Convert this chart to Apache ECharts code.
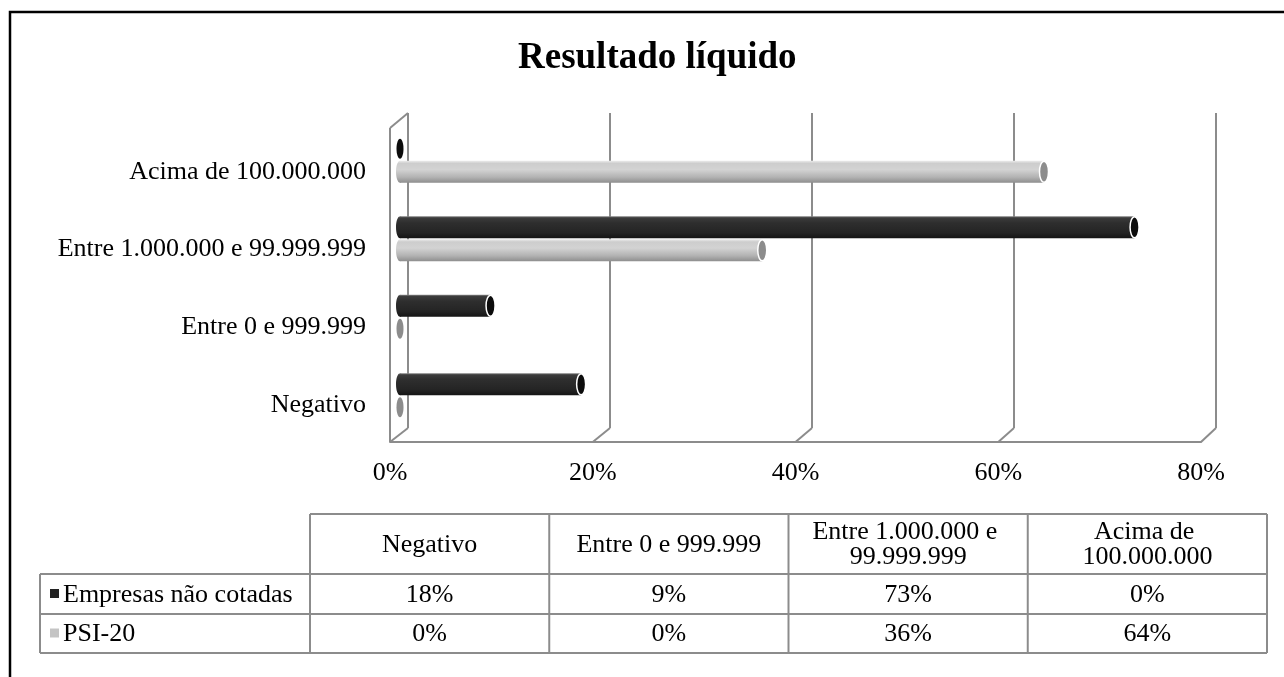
<!DOCTYPE html>
<html>
<head>
<meta charset="utf-8">
<title>Resultado líquido</title>
<script src="https://cdn.jsdelivr.net/npm/echarts@6/dist/echarts.min.js"></script>
<style>
  html, body { margin: 0; padding: 0; background: #fff; }
  #main { width: 1284px; height: 677px; }
</style>
</head>
<body>
<div id="main"></div>
<script>
// dados
const categories = ['Negativo', 'Entre 0 e 999.999', 'Entre 1.000.000 e 99.999.999', 'Acima de 100.000.000'];
const seriesNames = ['Empresas não cotadas', 'PSI-20'];
const empresas = [18, 9, 73, 0];
const psi20 = [0, 0, 36, 64];
const xTicks = [0, 20, 40, 60, 80];

const FONT = 'Liberation Serif';
const FS = 26;
const W = 1284, H = 677;
// caixa "3D": parede do fundo, plano das barras e frente
const back = { l: 408, r: 1216, t: 113, b: 428 };
const mid = { l: 400, r: 1205, t: 121, b: 435 };
const front = { l: 390, r: 1201, t: 128, b: 442 };
const labels = { l: 390, r: 1201, t: 133, b: 444 };
const gridLine = '#8c8c8c';

const styles = [
  { // Empresas não cotadas
    stops: [[0, '#8a8a8a'], [0.07, '#3c3c3c'], [0.3, '#2e2e2e'], [0.75, '#242424'], [1, '#141414']],
    cap: '#0c0c0c', off: -11.5, key: '#222'
  },
  { // PSI-20
    stops: [[0, '#ececec'], [0.12, '#cdcdcd'], [0.4, '#d3d3d3'], [0.75, '#b2b2b2'], [1, '#8e8e8e']],
    cap: '#8c8c8c', off: 11.5, key: '#c4c4c4'
  }
];

function cylinder(st) {
  return function (params, api) {
    const v = api.value(0), c = api.value(1);
    const p0 = api.coord([0, c]);
    const p1 = api.coord([v, c]);
    const cy = p0[1] + st.off, h = 22;
    const grad = new echarts.graphic.LinearGradient(0, 0, 0, 1,
      st.stops.map(s => ({ offset: s[0], color: s[1] })));
    const kids = [];
    if (v > 0) {
      kids.push({ type: 'ellipse', shape: { cx: p0[0], cy: cy, rx: 4, ry: h / 2 }, style: { fill: grad } });
      kids.push({ type: 'rect', shape: { x: p0[0], y: cy - h / 2, width: p1[0] - p0[0], height: h }, style: { fill: grad } });
      kids.push({ type: 'ellipse', shape: { cx: p1[0], cy: cy, rx: 4.5, ry: h / 2 - 0.5 }, style: { fill: st.cap, stroke: '#fff', lineWidth: 1.5 } });
    } else {
      kids.push({ type: 'ellipse', shape: { cx: p0[0], cy: cy, rx: 3.5, ry: 10 }, style: { fill: st.cap } });
    }
    return { type: 'group', children: kids };
  };
}

function gridOf(b) {
  return { left: b.l, right: W - b.r, top: b.t, bottom: H - b.b, containLabel: false };
}

const chart = echarts.init(document.getElementById('main'));

const option = {
  animation: false,
  backgroundColor: '#fff',
  title: {
    text: 'Resultado líquido',
    left: 513,
    top: 35,
    textStyle: { fontFamily: FONT, fontSize: 37, fontWeight: 'bold', color: '#000' }
  },
  grid: [gridOf(back), gridOf(mid), gridOf(front), gridOf(labels)],
  xAxis: [
    {
      gridIndex: 0, type: 'value', min: 0, max: 80, interval: 20,
      axisLine: { show: false }, axisTick: { show: false }, axisLabel: { show: false },
      splitLine: { show: true, lineStyle: { color: gridLine, width: 2 } }
    },
    { gridIndex: 1, type: 'value', min: 0, max: 80, interval: 20, show: false },
    {
      gridIndex: 2, type: 'value', min: 0, max: 80, interval: 20,
      axisLine: { show: true, lineStyle: { color: gridLine, width: 2 } },
      axisTick: { show: false }, splitLine: { show: false },
      axisLabel: { margin: 18, fontFamily: FONT, fontSize: FS, color: '#000', formatter: '{value}%' }
    },
    { gridIndex: 3, type: 'value', min: 0, max: 80, show: false }
  ],
  yAxis: [
    { gridIndex: 0, type: 'category', data: categories, show: false },
    { gridIndex: 1, type: 'category', data: categories, show: false },
    { gridIndex: 2, type: 'category', data: categories, show: false },
    {
      gridIndex: 3, type: 'category', data: categories,
      axisLine: { show: false }, axisTick: { show: false }, splitLine: { show: false },
      axisLabel: { margin: 24, fontFamily: FONT, fontSize: FS, color: '#000' }
    }
  ],
  series: [
    {
      name: seriesNames[0], type: 'custom', xAxisIndex: 1, yAxisIndex: 1, z: 5,
      renderItem: cylinder(styles[0]),
      encode: { x: 0, y: 1 },
      data: empresas.map((v, i) => [v, i])
    },
    {
      name: seriesNames[1], type: 'custom', xAxisIndex: 1, yAxisIndex: 1, z: 5,
      renderItem: cylinder(styles[1]),
      encode: { x: 0, y: 1 },
      data: psi20.map((v, i) => [v, i])
    }
  ]
};
chart.setOption(option);

// paredes e chão em perspectiva, a partir dos eixos
const deco = [];
const line = (x1, y1, x2, y2) => deco.push({
  type: 'line', z: 1, silent: true,
  shape: { x1, y1, x2, y2 }, style: { stroke: gridLine, lineWidth: 2 }
});
line(front.l, front.t, front.l, front.b);
line(front.l, front.t, back.l, back.t);
xTicks.forEach(t => {
  const bx = chart.convertToPixel({ xAxisIndex: 0 }, t);
  const fx = chart.convertToPixel({ xAxisIndex: 2 }, t);
  line(fx, front.b, bx, back.b);
});

// tabela de dados
const tab = { l: 40, c0: 310, r: 1267, top: 514, h0: 574, h1: 614, h2: 653 };
const colW = (tab.r - tab.c0) / categories.length;
const tLine = (x1, y1, x2, y2) => deco.push({
  type: 'line', silent: true, shape: { x1, y1, x2, y2 }, style: { stroke: gridLine, lineWidth: 2 }
});
tLine(tab.c0, tab.top, tab.r, tab.top);
[tab.h0, tab.h1, tab.h2].forEach(y => tLine(tab.l, y, tab.r, y));
tLine(tab.l, tab.h0, tab.l, tab.h2);
for (let i = 0; i <= categories.length; i++) {
  const x = tab.c0 + i * colW;
  tLine(x, tab.top, x, tab.h2);
}
const txt = (x, y, s, align, wrap) => deco.push({
  type: 'text', silent: true, x, y,
  style: Object.assign({
    text: s, fontFamily: FONT, fontSize: FS, fill: '#000',
    align: align || 'center', verticalAlign: 'middle', lineHeight: 25
  }, wrap ? { width: wrap, overflow: 'break' } : {})
});
categories.forEach((c, i) => txt(tab.c0 + (i + 0.5) * colW, (tab.top + tab.h0) / 2 + 1, c, 'center', 215));
[empresas, psi20].forEach((arr, r) => {
  const y = r === 0 ? (tab.h0 + tab.h1) / 2 : (tab.h1 + tab.h2) / 2;
  deco.push({
    type: 'rect', silent: true,
    shape: { x: 50, y: y - 5, width: 9, height: 9 },
    style: { fill: styles[r].key }
  });
  txt(63, y + 1, seriesNames[r], 'left');
  arr.forEach((v, i) => txt(tab.c0 + (i + 0.5) * colW, y + 1, v + '%'));
});

// moldura exterior
deco.push({
  type: 'rect', silent: true,
  shape: { x: 10, y: 12, width: 1400, height: 800 },
  style: { fill: null, stroke: '#000', lineWidth: 2.5 }
});

chart.setOption({ graphic: { elements: deco } });
window.addEventListener('resize', () => chart.resize());
</script>
</body>
</html>
